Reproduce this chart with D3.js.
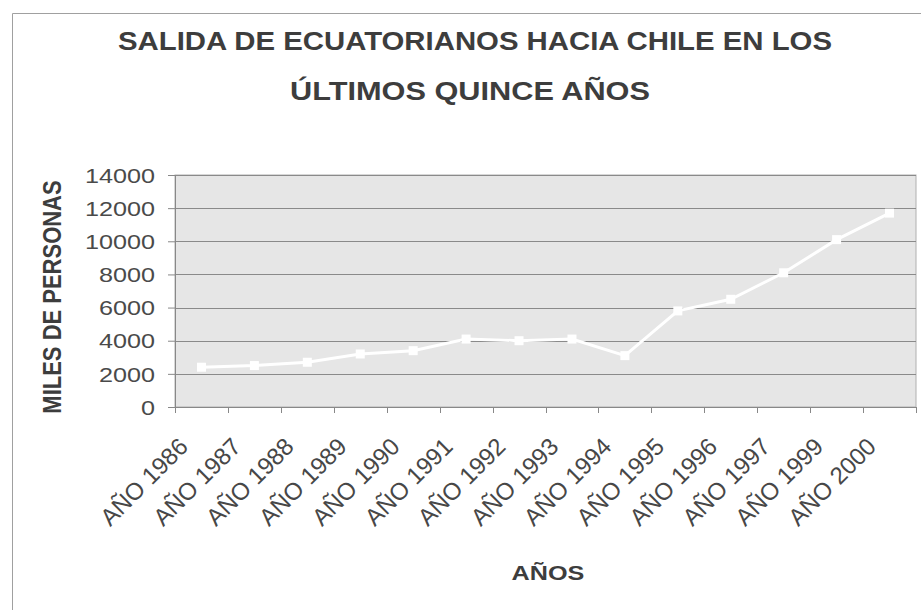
<!DOCTYPE html>
<html>
<head>
<meta charset="utf-8">
<script src="https://cdn.jsdelivr.net/npm/d3@7"></script>
<style>
  html, body { margin: 0; padding: 0; background: #ffffff; }
  svg { display: block; }
  text { font-family: "Liberation Sans", Arial, sans-serif; }
</style>
</head>
<body>
<svg id="chart" width="921" height="610"></svg>
<script>
// ---- data ----
const categories = ["AÑO 1986", "AÑO 1987", "AÑO 1988", "AÑO 1989", "AÑO 1990", "AÑO 1991", "AÑO 1992",
                    "AÑO 1993", "AÑO 1994", "AÑO 1995", "AÑO 1996", "AÑO 1997", "AÑO 1999", "AÑO 2000"];
const values = [2400, 2500, 2700, 3200, 3400, 4100, 4000, 4100, 3100, 5800, 6500, 8100, 10100, 11700];
const yTicks = [0, 2000, 4000, 6000, 8000, 10000, 12000, 14000];
const titleLines = ["SALIDA DE ECUATORIANOS HACIA CHILE EN LOS", "ÚLTIMOS QUINCE AÑOS"];
const yTitle = "MILES DE PERSONAS";
const xTitle = "AÑOS";

// ---- layout ----
const svg = d3.select("#chart");
const plot = { left: 175, right: 916, top: 175, bottom: 407 };
const textColor = "#3d3d3d";
const sx = 1.2; // horizontal stretch of the scanned chart

// outer frame
svg.append("path")
  .attr("d", "M12.5,640 L12.5,13.5 L940,13.5")
  .attr("fill", "none").attr("stroke", "#a0a0a0").attr("stroke-width", 1);

const x = d3.scaleBand().domain(categories).range([plot.left, plot.right]).padding(0);
const y = d3.scaleLinear().domain([0, 14000]).range([plot.bottom, plot.top]);

// plot background
svg.append("rect")
  .attr("x", plot.left).attr("y", plot.top)
  .attr("width", plot.right - plot.left).attr("height", plot.bottom - plot.top)
  .attr("fill", "#e6e6e6").attr("stroke", "#b0b0b0").attr("stroke-width", 1);

// gridlines
svg.append("g").selectAll("line").data(yTicks.filter(v => v > 0)).join("line")
  .attr("x1", plot.left).attr("x2", plot.right)
  .attr("y1", d => Math.round(y(d)) + 0.5).attr("y2", d => Math.round(y(d)) + 0.5)
  .attr("stroke", "#8a8a8a").attr("stroke-width", 1);

// y axis
const yAxis = svg.append("g")
  .attr("transform", `translate(${plot.left},0)`)
  .call(d3.axisLeft(y).tickValues(yTicks).tickSize(7).tickSizeOuter(0).tickFormat(d3.format("d")));
yAxis.select(".domain").attr("stroke", "#888");
yAxis.selectAll(".tick line").attr("stroke", "#888");
yAxis.selectAll(".tick text")
  .attr("x", null).attr("dy", null)
  .attr("transform", `translate(-20,0) scale(${sx},1)`)
  .attr("dominant-baseline", "central")
  .attr("text-anchor", "end")
  .attr("font-size", 21)
  .attr("fill", "#4a4a4a");

// x axis: baseline + tick marks at category boundaries
const xAxis = svg.append("g")
  .attr("transform", `translate(0,${plot.bottom})`)
  .call(d3.axisBottom(x).tickSize(0).tickSizeOuter(0));
xAxis.select(".domain").attr("stroke", "#888");
xAxis.selectAll(".tick text")
  .attr("y", null).attr("dy", null)
  .attr("transform", "translate(-12,41) rotate(-45)")
  .attr("text-anchor", "end")
  .attr("font-size", 24)
  .attr("fill", "#474747");

const boundaries = categories.map(c => x(c)).concat([x.range()[1]]);
svg.append("g").selectAll("line").data(boundaries).join("line")
  .attr("x1", d => Math.round(d) + 0.5).attr("x2", d => Math.round(d) + 0.5)
  .attr("y1", plot.bottom).attr("y2", plot.bottom + 6)
  .attr("stroke", "#888");

// series line
const line = d3.line()
  .x((d, i) => x(categories[i]) + x.bandwidth() / 2)
  .y(d => y(d));
svg.append("path")
  .datum(values)
  .attr("d", line)
  .attr("fill", "none")
  .attr("stroke", "#ffffff")
  .attr("stroke-width", 3);
svg.append("g").selectAll("rect").data(values).join("rect")
  .attr("x", (d, i) => x(categories[i]) + x.bandwidth() / 2 - 4.5)
  .attr("y", d => y(d) - 4.5)
  .attr("width", 9).attr("height", 9)
  .attr("fill", "#ffffff");

// title
const titleX = [118, 290];
const titleW = [714, 360];
const titleY = [50, 100];
svg.append("g").selectAll("text").data(titleLines).join("text")
  .attr("x", (d, i) => titleX[i])
  .attr("y", (d, i) => titleY[i])
  .attr("textLength", (d, i) => titleW[i])
  .attr("lengthAdjust", "spacingAndGlyphs")
  .attr("font-size", 25)
  .attr("font-weight", "bold")
  .attr("fill", textColor)
  .text(d => d);

// axis titles
svg.append("text")
  .attr("transform", `translate(61,297) scale(${sx},1) rotate(-90)`)
  .attr("text-anchor", "middle")
  .attr("font-size", 22)
  .attr("font-weight", "bold")
  .attr("fill", textColor)
  .text(yTitle);

svg.append("text")
  .attr("transform", `translate(548,580) scale(${sx},1)`)
  .attr("text-anchor", "middle")
  .attr("font-size", 21)
  .attr("font-weight", "bold")
  .attr("fill", textColor)
  .text(xTitle);
</script>
</body>
</html>
